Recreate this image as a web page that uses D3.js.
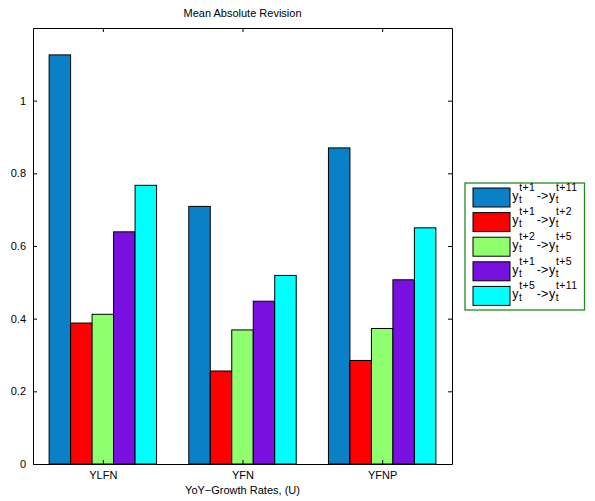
<!DOCTYPE html>
<html><head><meta charset="utf-8">
<script src="https://cdn.jsdelivr.net/npm/d3@7"></script>
<style>body{margin:0;background:#fff}svg{display:block;font-family:"Liberation Sans",Arial,sans-serif}</style>
</head><body><svg id="c" width="595" height="501"></svg>
<script>
const categories = ["YLFN", "YFN", "YFNP"];
const seriesNames = [["t+1","t+11"],["t+1","t+2"],["t+2","t+5"],["t+1","t+5"],["t+5","t+11"]];
const seriesColors = ["#0a80c6", "#ff0000", "#8fff6f", "#7810e0", "#00ffff"];
const s1 = [1.126, 0.709, 0.870];
const s2 = [0.388, 0.256, 0.285];
const s3 = [0.412, 0.369, 0.373];
const s4 = [0.639, 0.448, 0.507];
const s5 = [0.767, 0.519, 0.650];
const series = [s1, s2, s3, s4, s5];
const yTicks = [0, 0.2, 0.4, 0.6, 0.8, 1];
const title = "Mean Absolute Revision";
const xTitle = "YoY\u2212Growth Rates, (U)";

const svg = d3.select("#c");
const L = 33, R = 452, T = 28, B = 464;
const x = d3.scaleLinear().domain([0.5, 3.5]).range([L, R]);
const y = d3.scaleLinear().domain([0, 1.2]).range([B, T]);
const groupW = 5 / 6.5;
const bw = groupW / 5;

// bars
series.forEach((vals, si) => {
  svg.append("g").selectAll("rect").data(vals).join("rect")
    .attr("x", (d, i) => x(i + 1 - groupW / 2 + si * bw))
    .attr("width", x(bw) - x(0))
    .attr("y", d => y(d))
    .attr("height", d => y(0) - y(d))
    .attr("fill", seriesColors[si])
    .attr("stroke", "#000").attr("stroke-width", 1);
});

// axes box
const fs = 11;
const gL = svg.append("g").attr("transform", `translate(${L},0)`)
  .call(d3.axisLeft(y).tickValues(yTicks).tickFormat(d3.format("~g")).tickSizeInner(-4).tickSizeOuter(0).tickPadding(7));
const gR = svg.append("g").attr("transform", `translate(${R},0)`)
  .call(d3.axisRight(y).tickValues(yTicks).tickFormat("").tickSizeInner(-4).tickSizeOuter(0));
const gB = svg.append("g").attr("transform", `translate(0,${B})`)
  .call(d3.axisBottom(x).tickValues([1,2,3]).tickFormat((d) => categories[d-1]).tickSizeInner(-4).tickSizeOuter(0).tickPadding(7));
const gT = svg.append("g").attr("transform", `translate(0,${T})`)
  .call(d3.axisTop(x).tickValues([1,2,3]).tickFormat("").tickSizeInner(-4).tickSizeOuter(0));
[gL, gR, gB, gT].forEach(g => {
  g.selectAll("text").attr("font-size", fs).attr("fill", "#000").attr("font-family", "Liberation Sans, Arial, sans-serif");
  g.selectAll("line").attr("stroke", "#000");
  g.select(".domain").attr("stroke", "#000");
});
gB.selectAll("text").attr("dy", "0.71em");

svg.append("text").attr("x", (L + R) / 2).attr("y", 17).attr("text-anchor", "middle")
  .attr("font-size", fs).text(title);
svg.append("text").attr("x", (L + R) / 2).attr("y", 494).attr("text-anchor", "middle")
  .attr("font-size", fs).text(xTitle);

// legend
const lg = svg.append("g");
lg.append("rect").attr("x", 465).attr("y", 183).attr("width", 119.5).attr("height", 127)
  .attr("fill", "#fff").attr("stroke", "#228b22").attr("stroke-width", 1.3);
seriesNames.forEach((nm, i) => {
  const ry = 188 + i * 24.6;
  lg.append("rect").attr("x", 473).attr("y", ry).attr("width", 37).attr("height", 19)
    .attr("fill", seriesColors[i]).attr("stroke", "#000").attr("stroke-width", 1);
  const t = lg.append("text").attr("x", 512.3).attr("y", ry + 11.7).attr("font-size", 12.5);
  t.append("tspan").text("y");
  t.append("tspan").attr("font-size", 10).attr("dx", 0.5).attr("dy", 3).text("t");
  t.append("tspan").attr("font-size", 10.5).attr("letter-spacing", 0.4).attr("dx", -2.6).attr("dy", -12).text(nm[0]);
  t.append("tspan").attr("dx", 1.4).attr("dy", 9).text("->");
  t.append("tspan").attr("dx", 0.8).text("y");
  t.append("tspan").attr("font-size", 10).attr("dx", 0.5).attr("dy", 3).text("t");
  t.append("tspan").attr("font-size", 10.5).attr("letter-spacing", 0.4).attr("dx", -2.6).attr("dy", -12).text(nm[1]);
});
</script></body></html>
